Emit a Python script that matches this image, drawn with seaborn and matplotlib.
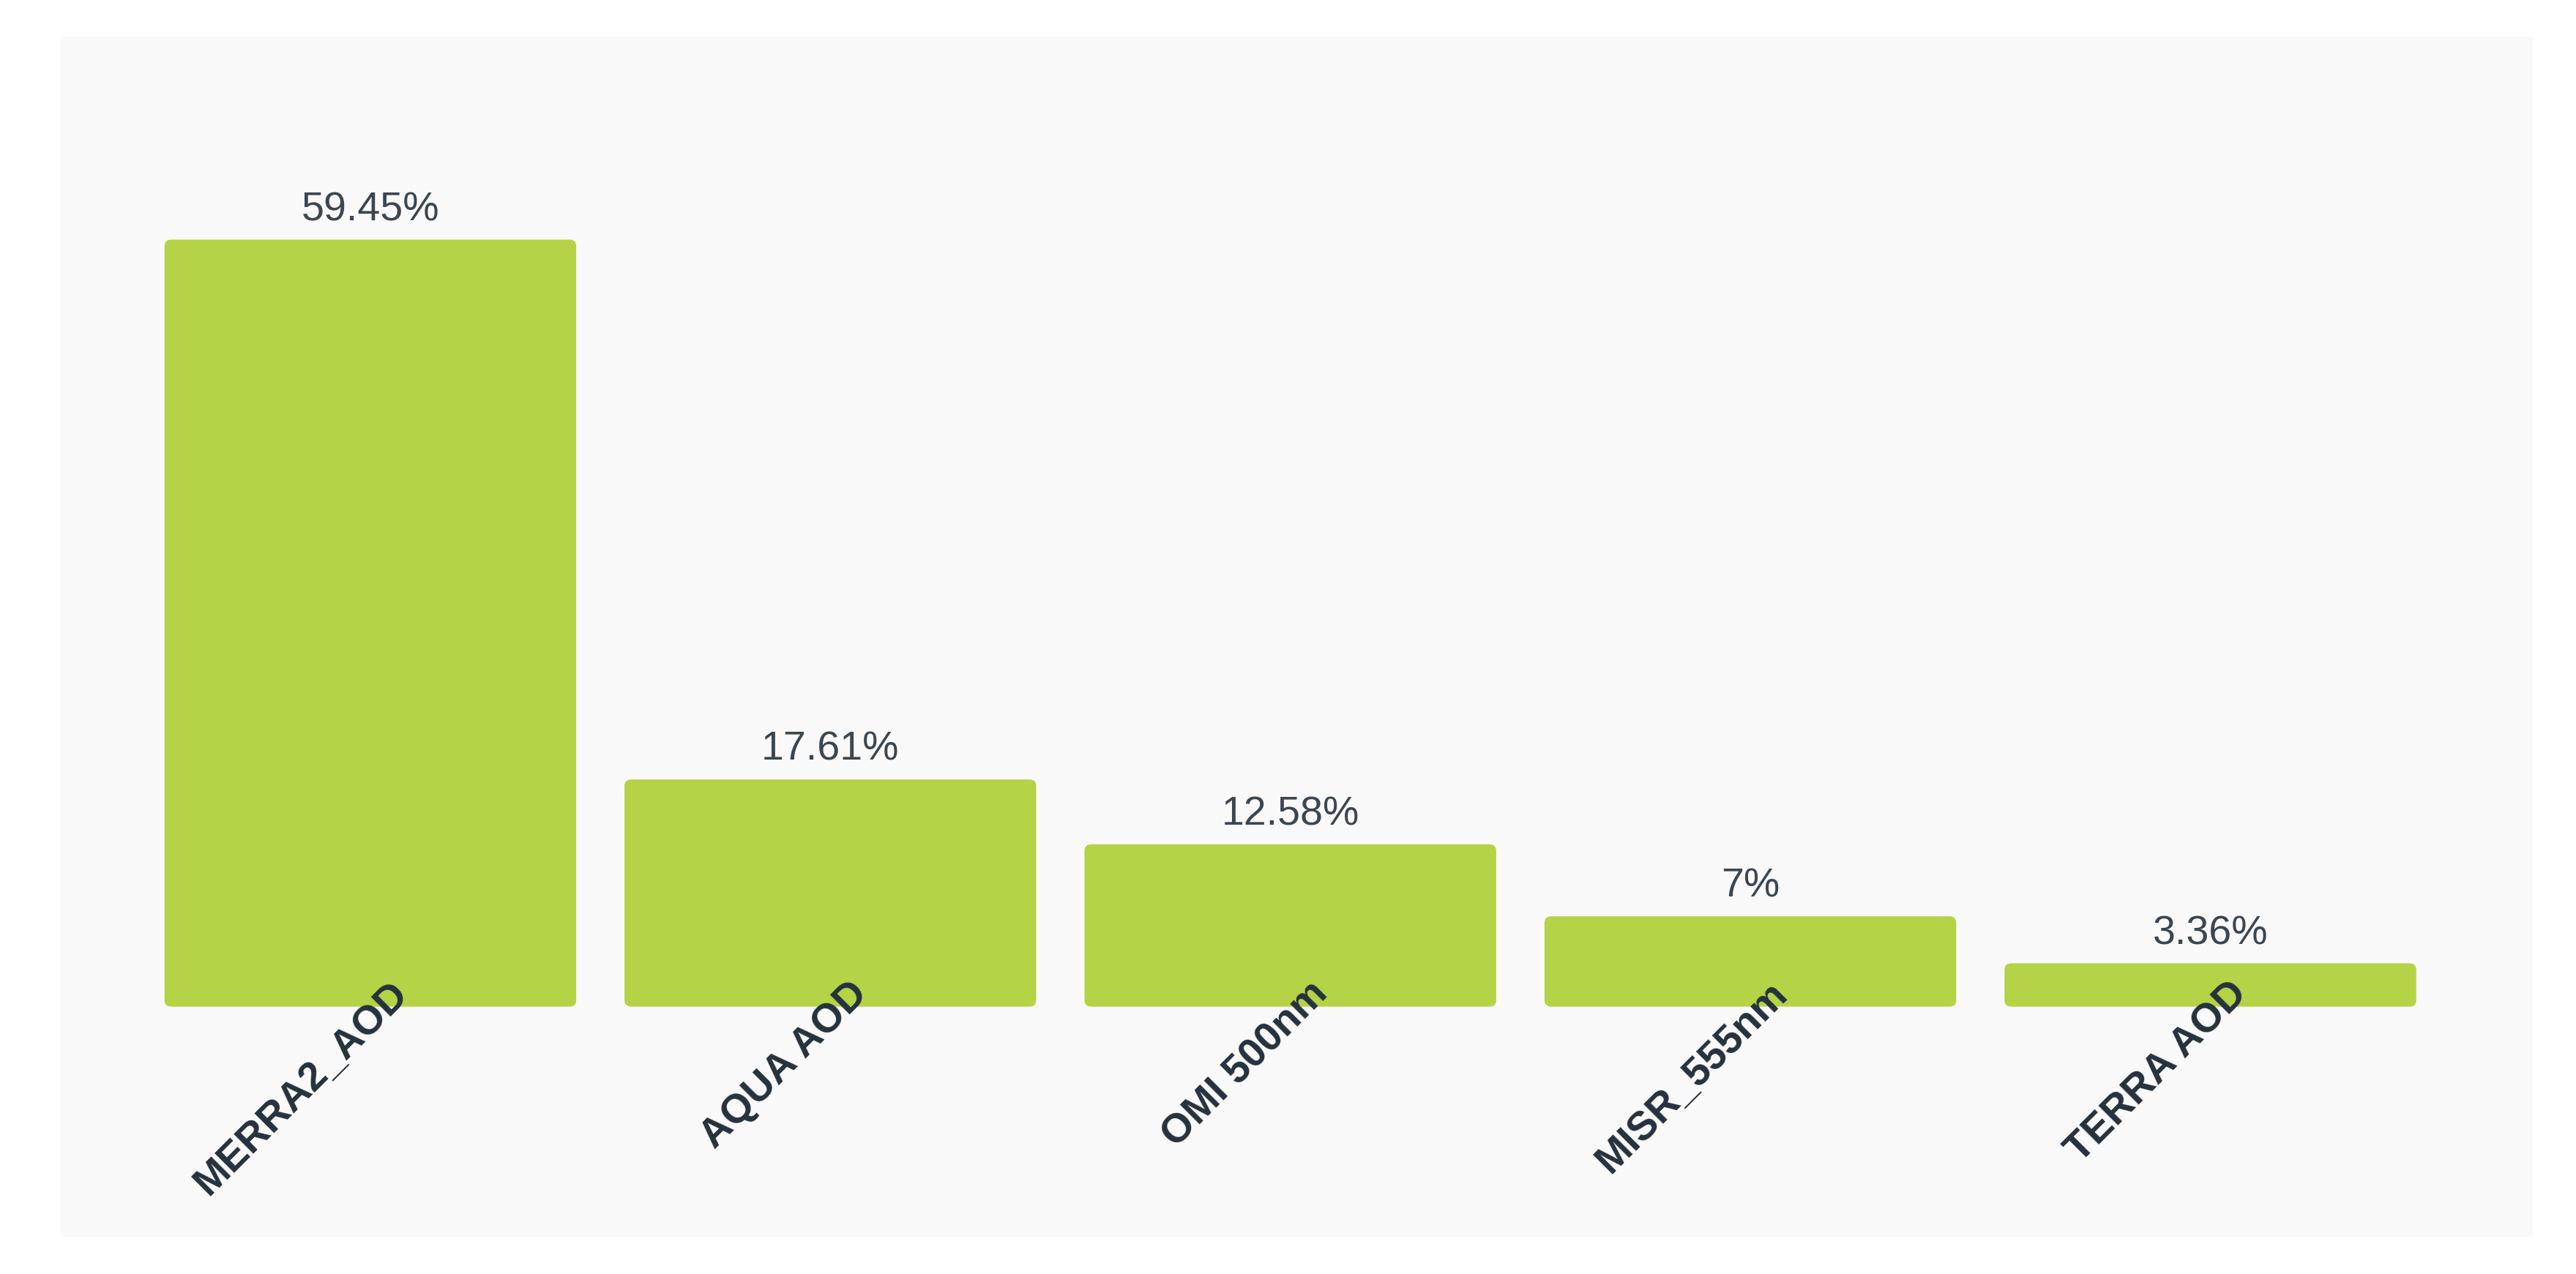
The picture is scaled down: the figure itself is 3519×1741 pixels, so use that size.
import matplotlib
matplotlib.use("Agg")
import numpy as np
import pandas as pd
import matplotlib.pyplot as plt
import seaborn as sns
from matplotlib.patches import FancyBboxPatch

# ---- data ----
products = ["MERRA2_AOD", "AQUA AOD", "OMI 500nm", "MISR_555nm", "TERRA AOD"]
shares = [59.45, 17.61, 12.58, 7, 3.36]
value_labels = ["59.45%", "17.61%", "12.58%", "7%", "3.36%"]

df = pd.DataFrame({"product": products, "share": shares})

# ---- style ----
sns.set_theme(style="white")
plt.rcParams["font.family"] = ["Liberation Sans", "DejaVu Sans"]

BAR = "#b5d346"
PANEL = "#f9f9f9"
W, H = 3519, 1741

fig = plt.figure(figsize=(W / 100, H / 100), dpi=100)
fig.patch.set_facecolor("white")
ax = fig.add_axes([83 / W, (H - 1690) / H, (3460 - 83) / W, (1690 - 50) / H])
ax.set_facecolor(PANEL)

sns.barplot(data=df, x="product", y="share", color=BAR, saturation=1,
            width=0.895, ax=ax)

ax.set_xlim(-0.673, 4.701)
ax.set_ylim(-17.83, 75.19)

# rounded bar corners
fig.canvas.draw()
bb = ax.get_window_extent()
px_x = bb.width / (ax.get_xlim()[1] - ax.get_xlim()[0])
px_y = bb.height / (ax.get_ylim()[1] - ax.get_ylim()[0])
radius_px = 9
for p in list(ax.patches):
    x, y, w, h = p.get_x(), p.get_y(), p.get_width(), p.get_height()
    p.remove()
    ax.add_patch(FancyBboxPatch(
        (x, y), w, h,
        boxstyle=f"round,pad=0,rounding_size={radius_px / px_x}",
        mutation_aspect=px_x / px_y,
        facecolor=BAR, edgecolor="none"))

# value labels
for i, (v, txt) in enumerate(zip(shares, value_labels)):
    ax.annotate(txt, xy=(i, v), xytext=(0, 19), textcoords="offset points",
                ha="center", va="baseline", fontsize=40, color="#3b4651")

# category labels, rotated 45 deg
for i, name in enumerate(products):
    ax.annotate(name, xy=(i, 0), xytext=(31, 18), textcoords="offset points",
                ha="right", va="center", rotation=45, rotation_mode="anchor",
                fontsize=40, fontweight="bold", color="#25313c")

ax.set_xticks([])
ax.set_yticks([])
ax.set_xlabel("")
ax.set_ylabel("")
sns.despine(ax=ax, left=True, bottom=True)

fig.savefig("out.png", dpi=100, facecolor="white")
